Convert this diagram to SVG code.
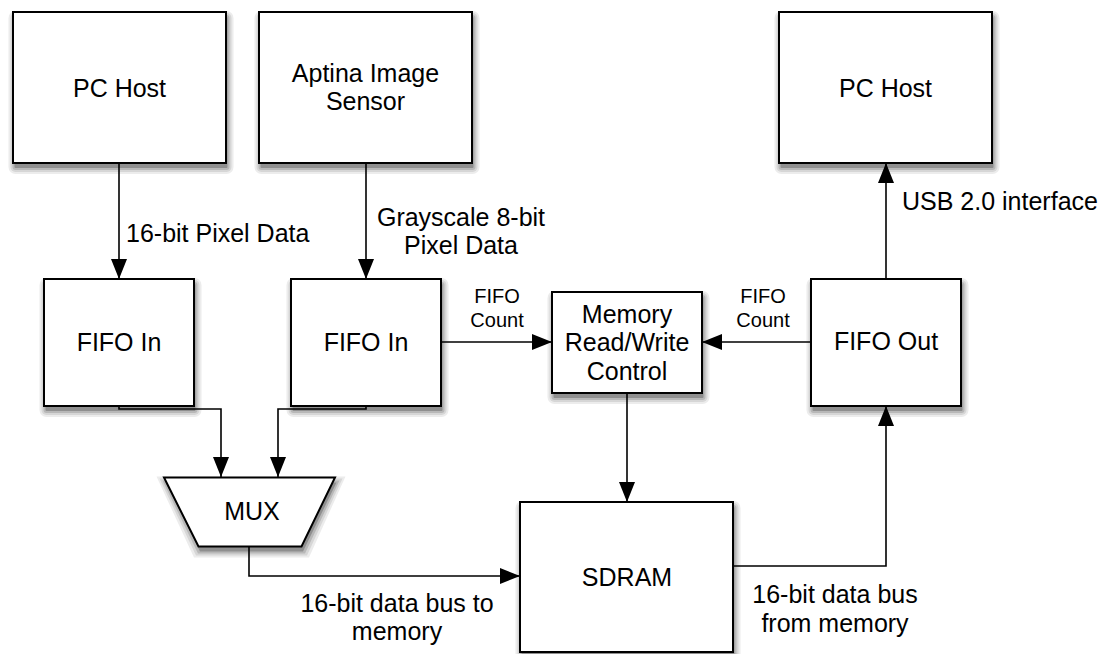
<svg xmlns="http://www.w3.org/2000/svg" width="1106" height="654" viewBox="0 0 1106 654">
  <defs>
    <marker id="arrow" viewBox="0 0 20 16" refX="20" refY="8" markerWidth="20" markerHeight="16" markerUnits="userSpaceOnUse" orient="auto">
      <path d="M0,0 L20,8 L0,16 Z" fill="#000"/>
    </marker>
  </defs>
  <style>
    .box { fill: #fff; stroke: #000; stroke-width: 2; }
    .lbl { font-family: "Liberation Sans", Arial, Helvetica, sans-serif; font-size: 25px; fill: #000; text-anchor: middle; }
    .sm { font-family: "Liberation Sans", Arial, Helvetica, sans-serif; font-size: 20px; fill: #000; text-anchor: middle; }
    .edge { fill: none; stroke: #000; stroke-width: 1.6; }
    .arr { marker-end: url(#arrow); }
    .g1 { fill: #ececec; }
    .g2 { fill: #d6d6d6; }
    .g3 { fill: #b8b8b8; }
    .g4 { fill: #8f8f8f; }
  </style>
  <rect width="1106" height="654" fill="#fff"/>

  <!-- drop shadows: nested grey rectangles, offset down-right -->
  <g id="shadows">
    <rect class="g1" x="8.5" y="11" width="225" height="163" rx="7"/>
    <rect class="g2" x="10.5" y="13" width="221" height="159" rx="5"/>
    <rect class="g3" x="12.5" y="15" width="217" height="155" rx="3"/>
    <rect class="g4" x="14.5" y="17" width="213" height="151" rx="1"/>

    <rect class="g1" x="254.5" y="11" width="225" height="163" rx="7"/>
    <rect class="g2" x="256.5" y="13" width="221" height="159" rx="5"/>
    <rect class="g3" x="258.5" y="15" width="217" height="155" rx="3"/>
    <rect class="g4" x="260.5" y="17" width="213" height="151" rx="1"/>

    <rect class="g1" x="774.5" y="11" width="225" height="163" rx="7"/>
    <rect class="g2" x="776.5" y="13" width="221" height="159" rx="5"/>
    <rect class="g3" x="778.5" y="15" width="217" height="155" rx="3"/>
    <rect class="g4" x="780.5" y="17" width="213" height="151" rx="1"/>

    <rect class="g1" x="39.5" y="278" width="162" height="139" rx="7"/>
    <rect class="g2" x="41.5" y="280" width="158" height="135" rx="5"/>
    <rect class="g3" x="43.5" y="282" width="154" height="131" rx="3"/>
    <rect class="g4" x="45.5" y="284" width="150" height="127" rx="1"/>

    <rect class="g1" x="286.5" y="278" width="162" height="139" rx="7"/>
    <rect class="g2" x="288.5" y="280" width="158" height="135" rx="5"/>
    <rect class="g3" x="290.5" y="282" width="154" height="131" rx="3"/>
    <rect class="g4" x="292.5" y="284" width="150" height="127" rx="1"/>

    <rect class="g1" x="806.5" y="278" width="162" height="139" rx="7"/>
    <rect class="g2" x="808.5" y="280" width="158" height="135" rx="5"/>
    <rect class="g3" x="810.5" y="282" width="154" height="131" rx="3"/>
    <rect class="g4" x="812.5" y="284" width="150" height="127" rx="1"/>

    <rect class="g1" x="547.5" y="291" width="162" height="113" rx="7"/>
    <rect class="g2" x="549.5" y="293" width="158" height="109" rx="5"/>
    <rect class="g3" x="551.5" y="295" width="154" height="105" rx="3"/>
    <rect class="g4" x="553.5" y="297" width="150" height="101" rx="1"/>

    <rect class="g1" x="515.5" y="501" width="225" height="162" rx="7"/>
    <rect class="g2" x="517.5" y="503" width="221" height="158" rx="5"/>
    <rect class="g3" x="519.5" y="505" width="217" height="154" rx="3"/>
    <rect class="g4" x="521.5" y="507" width="213" height="150" rx="1"/>

    <polygon class="g1" points="156.5,476.5 345.5,476.5 309,557.5 194,557.5"/>
    <polygon class="g2" points="159.5,478.5 342.5,478.5 307,555.5 196,555.5"/>
    <polygon class="g3" points="162.5,480.5 339.5,480.5 305,553.5 198,553.5"/>
    <polygon class="g4" points="165.5,482.5 336.5,482.5 303,551.5 200,551.5"/>
  </g>

  <!-- connectors -->
  <g id="connectors">
    <path class="edge arr" d="M119,163 V279"/>
    <path class="edge arr" d="M366,163 V279"/>
    <path class="edge arr" d="M119,406 V409 H221 V477"/>
    <path class="edge arr" d="M366,406 V409 H278 V477"/>
    <path class="edge arr" d="M249,547 V576 H520"/>
    <path class="edge arr" d="M441,342 H552"/>
    <path class="edge arr" d="M811,342 H702"/>
    <path class="edge arr" d="M627,393 V502"/>
    <path class="edge arr" d="M733,566 H886 V406"/>
    <path class="edge arr" d="M886,279 V163"/>
    <text class="lbl" x="126" y="242" style="text-anchor:start">16-bit Pixel Data</text>
    <text class="lbl" x="461" y="226">Grayscale 8-bit</text>
    <text class="lbl" x="461" y="254">Pixel Data</text>
    <text class="sm" x="497" y="303">FIFO</text>
    <text class="sm" x="497" y="327">Count</text>
    <text class="sm" x="763" y="303">FIFO</text>
    <text class="sm" x="763" y="327">Count</text>
    <text class="lbl" x="902" y="210" style="text-anchor:start">USB 2.0 interface</text>
    <text class="lbl" x="397" y="612">16-bit data bus to</text>
    <text class="lbl" x="397" y="640">memory</text>
    <text class="lbl" x="835" y="603">16-bit data bus</text>
    <text class="lbl" x="835" y="632">from memory</text>
  </g>

  <g id="pc-host-in">
    <rect class="box" x="13" y="12" width="213" height="151"/>
    <text class="lbl" x="119.5" y="97">PC Host</text>
  </g>
  <g id="image-sensor">
    <rect class="box" x="259" y="12" width="213" height="151"/>
    <text class="lbl" x="365.5" y="82">Aptina Image</text>
    <text class="lbl" x="365.5" y="110">Sensor</text>
  </g>
  <g id="pc-host-out">
    <rect class="box" x="779" y="12" width="213" height="151"/>
    <text class="lbl" x="885.5" y="97">PC Host</text>
  </g>
  <g id="fifo-in-1">
    <rect class="box" x="44" y="279" width="150" height="127"/>
    <text class="lbl" x="119" y="351">FIFO In</text>
  </g>
  <g id="fifo-in-2">
    <rect class="box" x="291" y="279" width="150" height="127"/>
    <text class="lbl" x="366" y="351">FIFO In</text>
  </g>
  <g id="mem-control">
    <rect class="box" x="552" y="292" width="150" height="101"/>
    <text class="lbl" x="627" y="323">Memory</text>
    <text class="lbl" x="627" y="351">Read/Write</text>
    <text class="lbl" x="627" y="380">Control</text>
  </g>
  <g id="fifo-out">
    <rect class="box" x="811" y="279" width="150" height="127"/>
    <text class="lbl" x="886" y="350">FIFO Out</text>
  </g>
  <g id="mux">
    <polygon class="box" points="164,477.5 335,477.5 301.5,546.5 198.5,546.5"/>
    <text class="lbl" x="252" y="520">MUX</text>
  </g>
  <g id="sdram">
    <rect class="box" x="520" y="502" width="213" height="150"/>
    <text class="lbl" x="627" y="586">SDRAM</text>
  </g>
</svg>
